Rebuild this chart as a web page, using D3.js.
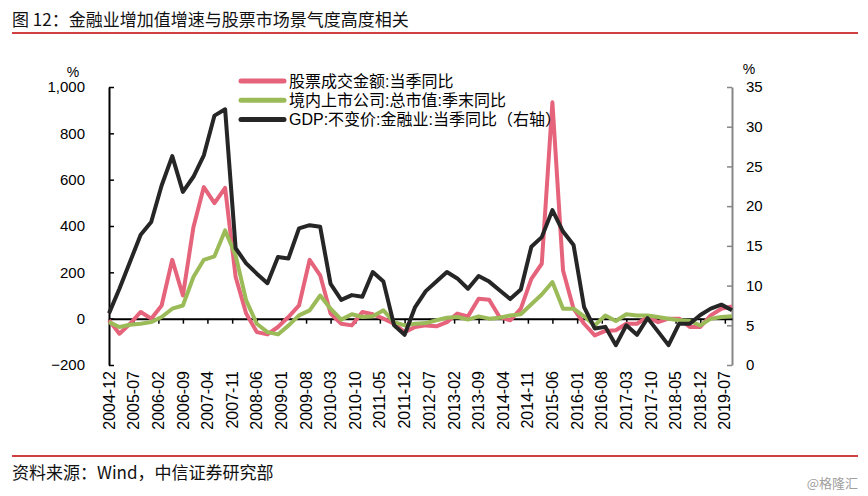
<!DOCTYPE html>
<html>
<head>
<meta charset="utf-8">
<script src="https://cdn.jsdelivr.net/npm/d3@7"></script>
<style>
  body { margin: 0; background: #fff; }
  svg { display: block; }
</style>
</head>
<body>
<script>
const width = 868;
const height = 496;

const seriesNames = [
  "股票成交金额:当季同比",
  "境内上市公司:总市值:季末同比",
  "GDP:不变价:金融业:当季同比（右轴）",
];
const colors = ["#e5637b", "#9bbb59", "#262626"];

// quarterly points 2004-12 .. 2019-09
const quarters = d3.timeMonth.range(new Date(2004, 11, 1), new Date(2019, 9, 1), 3);

const turnover = [
  -7, -65, -22, 29, 0, 57, 254, 100, 395, 568, 499, 565, 180, 22, -58, -68,
  -36, 7, 57, 254, 187, 22, -22, -29, 29, 19, 0, -22, -58, -36, -29, -33,
  -15, 22, 10, 86, 82, 7, -7, 43, 172, 237, 934, 208, 43, -22, -72, -53,
  -50, -22, -22, 7, -15, 0, 0, -36, -36, 14, 43, 53,
];
const marketCap = [
  -15, -36, -26, -22, -15, 7, 43, 57, 180, 254, 269, 381, 273, 79, -22, -58,
  -68, -30, 14, 36, 100, 43, -4, 19, 7, 10, 36, -15, -29, -22, -19, -7,
  4, 7, -4, 10, 0, 4, 14, 19, 62, 104, 158, 43, 43, 10, -29, 14,
  -10, 19, 14, 14, 7, 0, -7, -10, -29, 0, 7, 10,
];
const gdpFin = [
  6.5, 9.6, 13.0, 16.4, 18.0, 22.6, 26.3, 21.8, 23.7, 26.4, 31.4, 32.2, 14.7, 12.8, 11.5, 10.3,
  13.6, 13.4, 17.2, 17.6, 17.4, 10.2, 8.2, 8.8, 8.6, 11.7, 10.5, 5.0, 3.8, 7.3, 9.3, 10.5,
  11.7, 10.9, 9.6, 11.2, 10.5, 9.4, 8.3, 9.5, 14.9, 16.1, 19.5, 16.8, 15.1, 7.3, 4.6, 4.8,
  2.5, 5.0, 3.8, 5.9, 4.2, 2.5, 5.2, 5.2, 6.3, 7.1, 7.6, 6.9,
];

const xTickLabels = [
  "2004-12", "2005-07", "2006-02", "2006-09", "2007-04", "2007-11", "2008-06",
  "2009-01", "2009-08", "2010-03", "2010-10", "2011-05", "2011-12", "2012-07",
  "2013-02", "2013-09", "2014-04", "2014-11", "2015-06", "2016-01", "2016-08",
  "2017-03", "2017-10", "2018-05", "2018-12", "2019-07",
];
const leftTicks = [-200, 0, 200, 400, 600, 800, 1000];
const rightTicks = [0, 5, 10, 15, 20, 25, 30, 35];

const latin = "'Liberation Sans', Arial, 'Noto Sans CJK SC', sans-serif";
const cjk = "'Noto Sans CJK SC', 'Liberation Sans', sans-serif";

const svg = d3
  .select("body")
  .append("svg")
  .attr("width", width)
  .attr("height", height);

// header and footer
svg
  .append("text")
  .attr("x", 12)
  .attr("y", 26)
  .attr("font-family", cjk)
  .attr("font-size", 17)
  .attr("fill", "#111")
  .text("图 12：金融业增加值增速与股票市场景气度高度相关");
svg
  .append("line")
  .attr("x1", 12)
  .attr("x2", 858)
  .attr("y1", 33)
  .attr("y2", 33)
  .attr("stroke", "#c00000")
  .attr("stroke-width", 1.5);
svg
  .append("line")
  .attr("x1", 12)
  .attr("x2", 858)
  .attr("y1", 456)
  .attr("y2", 456)
  .attr("stroke", "#c00000")
  .attr("stroke-width", 1.5);
svg
  .append("text")
  .attr("x", 12)
  .attr("y", 479)
  .attr("font-family", cjk)
  .attr("font-size", 17)
  .attr("fill", "#111")
  .text("资料来源：Wind，中信证券研究部");
svg
  .append("text")
  .attr("x", 858)
  .attr("y", 488)
  .attr("text-anchor", "end")
  .attr("font-family", cjk)
  .attr("font-size", 13)
  .attr("fill", "#a0a0a0")
  .text("@格隆汇");

// scales
const x = d3
  .scaleTime()
  .domain([new Date(2004, 11, 1), new Date(2019, 8, 1)])
  .range([109, 732]);
const yL = d3.scaleLinear().domain([-200, 1000]).range([365, 87]);
const yR = d3.scaleLinear().domain([0, 35]).range([365, 87]);

const parseMonth = d3.timeParse("%Y-%m");
const tickDates = xTickLabels.map(parseMonth);

// left axis
const gL = svg
  .append("g")
  .attr("transform", `translate(${x.range()[0]},0)`)
  .call(
    d3
      .axisLeft(yL)
      .tickValues(leftTicks)
      .tickSizeInner(-5)
      .tickSizeOuter(0)
      .tickPadding(24)
      .tickFormat(d3.format(","))
  );
gL.select(".domain").attr("stroke", "#000").attr("stroke-width", 2);
gL.selectAll(".tick line").attr("stroke", "#000").attr("stroke-width", 1.5);
gL.selectAll(".tick text")
  .attr("font-family", latin)
  .attr("font-size", 15)
  .attr("fill", "#000");

// right axis
const gR = svg
  .append("g")
  .attr("transform", `translate(${x.range()[1]},0)`)
  .call(
    d3
      .axisRight(yR)
      .tickValues(rightTicks)
      .tickSizeInner(-5)
      .tickSizeOuter(0)
      .tickPadding(14)
  );
gR.select(".domain").attr("stroke", "#868686").attr("stroke-width", 2);
gR.selectAll(".tick line").attr("stroke", "#868686").attr("stroke-width", 1.5);
gR.selectAll(".tick text")
  .attr("font-family", latin)
  .attr("font-size", 15)
  .attr("fill", "#000");

// unit labels
svg
  .append("text")
  .attr("x", 73)
  .attr("y", 77)
  .attr("text-anchor", "middle")
  .attr("font-family", latin)
  .attr("font-size", 14)
  .text("%");
svg
  .append("text")
  .attr("x", 749)
  .attr("y", 74)
  .attr("text-anchor", "middle")
  .attr("font-family", latin)
  .attr("font-size", 14)
  .text("%");

// x axis on the zero line
const gX = svg
  .append("g")
  .attr("transform", `translate(0,${yL(0)})`)
  .call(
    d3
      .axisBottom(x)
      .tickValues(tickDates)
      .tickSizeInner(5)
      .tickSizeOuter(0)
      .tickFormat("")
  );
gX.select(".domain").attr("stroke", "#000").attr("stroke-width", 2);
gX.selectAll(".tick line").attr("stroke", "#000").attr("stroke-width", 1.5);

svg
  .append("g")
  .selectAll("text")
  .data(xTickLabels)
  .join("text")
  .attr("transform", (d) => `translate(${x(parseMonth(d))},371) rotate(-90)`)
  .attr("text-anchor", "end")
  .attr("dy", "0.35em")
  .attr("font-family", latin)
  .attr("font-size", 16)
  .attr("fill", "#000")
  .text((d) => d);

// series
const lineL = (vals) =>
  d3
    .line()
    .x((d, i) => x(quarters[i]))
    .y((d) => yL(d))(vals);
const lineR = (vals) =>
  d3
    .line()
    .x((d, i) => x(quarters[i]))
    .y((d) => yR(d))(vals);

const paths = [lineL(turnover), lineL(marketCap), lineR(gdpFin)];
svg
  .append("g")
  .selectAll("path")
  .data(paths)
  .join("path")
  .attr("d", (d) => d)
  .attr("fill", "none")
  .attr("stroke", (d, i) => colors[i])
  .attr("stroke-width", 4)
  .attr("stroke-linejoin", "round");

// legend
const legend = svg
  .append("g")
  .selectAll("g")
  .data(seriesNames)
  .join("g")
  .attr("transform", (d, i) => `translate(241,${81 + i * 19.3})`);
legend
  .append("line")
  .attr("x1", 0)
  .attr("x2", 43)
  .attr("stroke", (d, i) => colors[i])
  .attr("stroke-width", 5)
  .attr("stroke-linecap", "round");
legend
  .append("text")
  .attr("x", 48)
  .attr("dy", "0.35em")
  .attr("font-family", latin)
  .attr("font-size", 16)
  .attr("fill", "#000")
  .text((d) => d);
</script>
</body>
</html>
